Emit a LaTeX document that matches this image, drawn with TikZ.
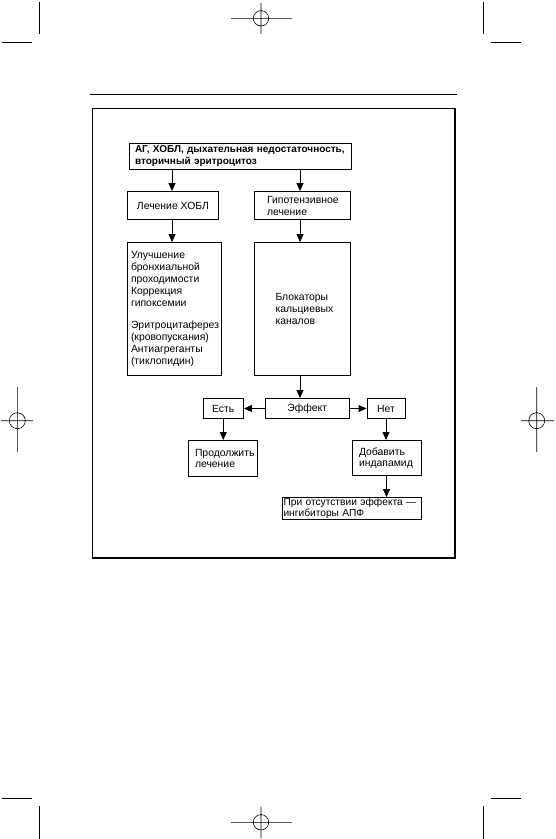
\documentclass[tikz,border=0pt]{standalone}
\usepackage{fontspec}
\setmainfont{Liberation Sans}
\usetikzlibrary{arrows.meta}
\begin{document}
\begin{tikzpicture}[x=1pt,y=-1pt,
  box/.style={draw,line width=0.9pt,inner ysep=0pt,inner xsep=0pt,font=\fontsize{10.4}{12}\selectfont},
  lbox/.style={box,align=left},
  arr/.style={line width=0.9pt,-{Triangle[length=8pt,width=7pt]}},
  cropline/.style={line width=0.6pt},
  framebox/.style={line width=1.3pt}
]
\useasboundingbox (0,0) rectangle (555,839);

% registration / crop marks
\draw[cropline] (39.3,2) -- (39.3,34) (2,42.3) -- (32,42.3);
\draw[cropline] (483.7,2) -- (483.7,34) (491,42.3) -- (521,42.3);
\draw[cropline] (2,798.3) -- (32,798.3) (39.3,806) -- (39.3,839);
\draw[cropline] (491,798.3) -- (521,798.3) (483.7,806) -- (483.7,839);
\draw[cropline] (261,18.3) circle[radius=7.7pt] (231,18.3) -- (292,18.3) (261,3) -- (261,34);
\draw[cropline] (261,822.3) circle[radius=7.7pt] (231,822.3) -- (292,822.3) (261,806.5) -- (261,838);
\draw[cropline] (17.3,420.7) circle[radius=8pt] (1,420.7) -- (33,420.7) (17.3,387) -- (17.3,452);
\draw[cropline] (536.7,420.7) circle[radius=8pt] (521,420.7) -- (554,420.7) (536.7,387) -- (536.7,452);

% header line and frame
\draw[line width=1pt] (90,94.3) -- (457,94.3);
\draw[framebox] (92.5,108.5) rectangle (455,558);

% nodes
\node[lbox, text width=210pt, inner xsep=6pt, minimum height=26pt,
      font=\bfseries\fontsize{10}{12.3}\selectfont] (top) at (240,156)
  {\mbox{АГ, ХОБЛ, дыхательная недостаточность,}\\вторичный эритроцитоз};
\node[box, minimum width=91pt, minimum height=28pt] (l1) at (173,205.5) {Лечение ХОБЛ};
\node[lbox, text width=70pt, inner xsep=13pt, minimum height=28pt] (r1) at (302,205.5)
  {Гипотензивное\\лечение};
\node[lbox, text width=87pt, inner xsep=3.5pt, minimum height=133pt,
      font=\fontsize{10.4}{11.8}\selectfont] (l2) at (174.5,309)
  {Улучшение\\бронхиальной\\проходимости\\Коррекция\\гипоксемии\\[10.8pt]Эритроцитаферез\\(кровопускания)\\Антиагреганты\\(тиклопидин)};
\node[lbox, text width=53.5pt, inner xsep=21.5pt, minimum height=133pt] (r2) at (302.25,309)
  {Блокаторы\\кальциевых\\каналов};
\node[box, minimum width=84.5pt, minimum height=20pt] (eff) at (307.25,408.5) {Эффект};
\node[box, minimum width=40.5pt, minimum height=20pt] (yes) at (223.25,408.5) {Есть};
\node[box, minimum width=38pt, minimum height=20pt] (no) at (386,408.5) {Нет};
\node[lbox, text width=56pt, inner xsep=6.5pt, minimum height=35.5pt,
      font=\fontsize{10.4}{11}\selectfont] (cont) at (223,458.25)
  {Продолжить\\лечение};
\node[lbox, text width=55pt, inner xsep=7pt, minimum height=34.5pt,
      font=\fontsize{10.4}{11}\selectfont] (add) at (386.5,457.75)
  {Добавить\\индапамид};
\node[lbox, text width=136.5pt, inner xsep=1.5pt, minimum height=22pt,
      font=\fontsize{10.2}{9.5}\selectfont] (bot) at (351.75,508.5)
  {\mbox{При отсутствии эффекта —}\\\mbox{ингибиторы АПФ}};

% connectors
\coordinate (spl) at (172,0);
\coordinate (spr) at (300,0);
\draw[arr] (top.south -| spl) -- (l1.north -| spl);
\draw[arr] (top.south -| spr) -- (r1.north -| spr);
\draw[arr] (l1.south -| spl) -- (l2.north -| spl);
\draw[arr] (r1.south -| spr) -- (r2.north -| spr);
\draw[arr] (r2.south -| spr) -- (eff.north -| spr);
\draw[arr] (eff.west) -- (yes.east);
\draw[arr] (eff.east) -- (no.west);
\draw[arr] (yes.south) -- (yes.south |- cont.north);
\draw[arr] (no.south) -- (no.south |- add.north);
\draw[arr] (add.south) -- (add.south |- bot.north);
\end{tikzpicture}
\end{document}
